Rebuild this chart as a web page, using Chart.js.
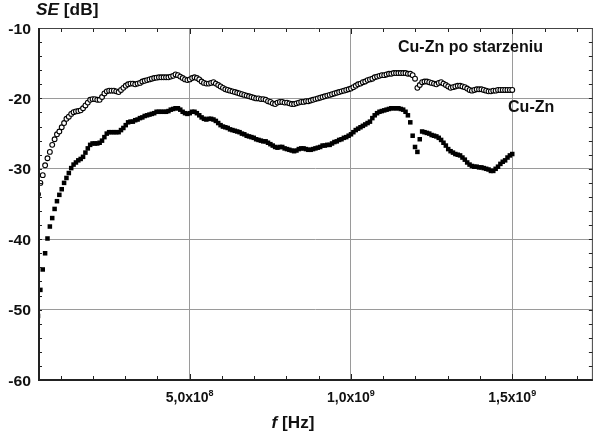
<!DOCTYPE html>
<html>
<head>
<meta charset="utf-8">
<script src="https://cdn.jsdelivr.net/npm/chart.js@4"></script>
<style>
  body { margin: 0; background: #fff; }
  canvas { display: block; }
</style>
</head>
<body>
<canvas id="chart" width="598" height="434"></canvas>
<script>
// sweep: 201 points from 30 MHz to 1.5 GHz
const sweepStart = 30e6;
const sweepStep = 7.35e6;

// open circles (Cu-Zn po starzeniu)
const seAged = [
  -33.6, -32.0, -30.9, -29.5, -28.5, -27.6, -26.6, -25.8, -25.1, -24.7,
  -24.1, -23.5, -22.9, -22.6, -22.2, -21.95, -21.85, -21.8, -21.7, -21.4,
  -21.0, -20.6, -20.2, -20.1, -20.1, -20.2, -20.2, -19.8, -19.3, -19.0,
  -18.9, -18.9, -18.9, -19.0, -19.1, -18.8, -18.5, -18.2, -18.0, -17.9,
  -17.9, -18.0, -17.9, -17.8, -17.6, -17.5, -17.4, -17.3, -17.2, -17.1,
  -17.05, -17.0, -17.0, -17.0, -17.0, -17.0, -16.9, -16.8, -16.6, -16.7,
  -16.9, -17.1, -17.3, -17.4, -17.3, -17.1, -17.0, -17.1, -17.3, -17.6,
  -17.8, -17.9, -17.9, -17.8, -17.7, -17.9, -18.1, -18.3, -18.5, -18.7,
  -18.8, -18.9, -19.0, -19.1, -19.2, -19.3, -19.4, -19.5, -19.6, -19.7,
  -19.8, -19.9, -20.0, -20.0, -20.1, -20.1, -20.2, -20.4, -20.5, -20.7,
  -20.8, -20.6, -20.5, -20.5, -20.6, -20.6, -20.7, -20.8, -20.8, -20.7,
  -20.6, -20.5, -20.5, -20.4, -20.4, -20.3, -20.2, -20.1, -20.0, -19.9,
  -19.8, -19.7, -19.6, -19.5, -19.4, -19.3, -19.2, -19.1, -19.0, -18.9,
  -18.8, -18.7, -18.6, -18.4, -18.2, -18.0, -17.9, -17.7, -17.6, -17.4,
  -17.3, -17.2, -17.0, -16.9, -16.8, -16.7, -16.7, -16.6, -16.5, -16.5,
  -16.4, -16.4, -16.4, -16.4, -16.4, -16.4, -16.5, -16.5, -16.7, -17.2,
  -18.5, -18.1, -17.7, -17.6, -17.6, -17.7, -17.8, -17.9, -18.0, -17.8,
  -17.7, -17.9, -18.1, -18.3, -18.5, -18.4, -18.3, -18.2, -18.2, -18.3,
  -18.4, -18.6, -18.8, -18.9, -18.8, -18.7, -18.7, -18.7, -18.8, -18.9,
  -19.0, -19.0, -18.9, -18.9, -18.8, -18.8, -18.8, -18.8, -18.8, -18.8,
  -18.8
];

// filled squares (Cu-Zn)
const seFresh = [
  -50.9, -47.2, -44.3, -42.0, -39.9, -38.2, -37.0, -35.7, -34.6, -33.7,
  -32.9, -32.0, -31.3, -30.6, -29.9, -29.4, -29.1, -28.8, -28.6, -28.3,
  -27.7, -27.1, -26.6, -26.4, -26.4, -26.4, -26.3, -26.0, -25.5, -25.0,
  -24.8, -24.8, -24.8, -24.8, -24.8, -24.5, -24.2, -23.8, -23.4, -23.3,
  -23.3, -23.1, -23.0, -22.8, -22.7, -22.5, -22.4, -22.3, -22.2, -22.1,
  -21.9, -21.9, -21.9, -21.9, -21.9, -21.8, -21.6, -21.5, -21.4, -21.4,
  -21.6, -21.9, -22.1, -22.2, -22.1, -21.9, -21.9, -22.1, -22.4, -22.7,
  -22.9, -23.0, -22.9, -22.9, -23.0, -23.2, -23.5, -23.8, -24.0, -24.1,
  -24.2, -24.4, -24.5, -24.6, -24.7, -24.8, -25.0, -25.1, -25.3, -25.4,
  -25.5, -25.6, -25.8, -25.9, -26.0, -26.1, -26.1, -26.3, -26.5, -26.7,
  -26.9, -27.0, -26.9, -26.9, -27.1, -27.2, -27.3, -27.4, -27.5, -27.4,
  -27.2, -27.1, -27.1, -27.2, -27.3, -27.3, -27.2, -27.1, -27.0, -26.9,
  -26.7, -26.7, -26.6, -26.6, -26.4, -26.2, -26.1, -25.9, -25.8, -25.6,
  -25.5, -25.3, -25.1, -24.8, -24.5, -24.3, -24.1, -23.9, -23.7, -23.5,
  -23.3, -22.8, -22.4, -22.1, -21.9, -21.8, -21.7, -21.6, -21.5, -21.4,
  -21.4, -21.4, -21.4, -21.5, -21.6, -21.9, -22.4, -23.4, -25.3, -26.9,
  -27.6, -25.8, -24.7, -24.8, -24.9, -25.0, -25.2, -25.3, -25.4, -25.6,
  -25.9, -26.3, -26.7, -27.2, -27.5, -27.7, -27.9, -28.0, -28.1, -28.4,
  -28.7, -29.1, -29.4, -29.6, -29.7, -29.7, -29.8, -29.8, -29.9, -30.0,
  -30.1, -30.3, -30.3, -30.0, -29.7, -29.3, -29.0, -28.8, -28.4, -28.1,
  -27.9
];

const xTicks = [5e8, 1e9, 1.5e9];
const xTickMantissa = ['5,0x10', '1,0x10', '1,5x10'];
const xTickExponent = ['8', '9', '9'];
const yTicks = [-60, -50, -40, -30, -20, -10];
const seriesNames = ['Cu-Zn po starzeniu', 'Cu-Zn'];
// text anchors in data units [x, y]
const labelPos = [[1.146e9, -13.4], [1.487e9, -21.9]];

const FONT = '"Liberation Sans", Arial, sans-serif';

const toPoints = (vals) => vals.map((v, i) => ({ x: sweepStart + i * sweepStep, y: v }));

// draws runs of text, each run may be stretched sideways
function drawRuns(ctx, runs, x, y, align) {
  let total = 0;
  runs.forEach(r => {
    ctx.font = r.font;
    r.w = ctx.measureText(r.t).width * (r.sx || 1);
    total += r.w;
  });
  let cx = align === 'center' ? x - total / 2 : align === 'right' ? x - total : x;
  runs.forEach(r => {
    ctx.save();
    ctx.font = r.font;
    ctx.textAlign = 'left';
    ctx.textBaseline = 'alphabetic';
    ctx.translate(cx, y + (r.dy || 0));
    ctx.scale(r.sx || 1, 1);
    ctx.fillText(r.t, 0, 0);
    ctx.restore();
    cx += r.w;
  });
}

const frame = {
  id: 'frame',
  afterDatasetsDraw(chart) {
    const { ctx, chartArea: a, scales: { x, y } } = chart;
    ctx.save();
    ctx.strokeStyle = '#222';

    // minor/major ticks, pointing inward
    ctx.lineWidth = 1;
    ctx.beginPath();
    for (let f = 1e8; f <= 1.7e9; f += 1e8) {
      const px = Math.round(x.getPixelForValue(f)) + 0.5;
      const major = Math.abs(f % 5e8) < 1 || Math.abs(f % 5e8 - 5e8) < 1;
      ctx.moveTo(px, a.bottom);
      ctx.lineTo(px, a.bottom - (major ? 6 : 4));
      ctx.moveTo(px, a.top);
      ctx.lineTo(px, a.top + (major ? 6 : 4));
    }
    for (let v = -58; v < -10; v += 2) {
      const py = Math.round(y.getPixelForValue(v)) + 0.5;
      ctx.moveTo(a.left, py);
      ctx.lineTo(a.left + 4, py);
      ctx.moveTo(a.right, py);
      ctx.lineTo(a.right - 4, py);
    }
    ctx.stroke();

    // box
    ctx.lineWidth = 1;
    ctx.strokeStyle = '#444';
    ctx.beginPath();
    ctx.moveTo(a.left, a.top + 0.5);
    ctx.lineTo(a.right, a.top + 0.5);
    ctx.moveTo(a.right - 0.5, a.top);
    ctx.lineTo(a.right - 0.5, a.bottom);
    ctx.stroke();
    ctx.lineWidth = 2;
    ctx.strokeStyle = '#222';
    ctx.beginPath();
    ctx.moveTo(a.left + 1, a.top);
    ctx.lineTo(a.left + 1, a.bottom + 1);
    ctx.moveTo(a.left, a.bottom);
    ctx.lineTo(a.right, a.bottom);
    ctx.stroke();
    ctx.restore();
  },
  afterDraw(chart) {
    const { ctx, chartArea: a, scales: { x, y } } = chart;
    ctx.save();
    ctx.fillStyle = '#111';

    yTicks.forEach(v => {
      drawRuns(ctx, [{ t: String(v), font: 'bold 15px ' + FONT, sx: 1.05 }],
        31, y.getPixelForValue(v) + 5.5, 'right');
    });

    xTicks.forEach((v, i) => {
      drawRuns(ctx, [
        { t: xTickMantissa[i], font: 'bold 14px ' + FONT },
        { t: xTickExponent[i], font: 'bold 9px ' + FONT, dy: -6 }
      ], x.getPixelForValue(v), a.bottom + 21.5, 'center');
    });

    drawRuns(ctx, [
      { t: 'SE', font: 'italic bold 16px ' + FONT, sx: 1.08 },
      { t: ' [dB]', font: 'bold 16px ' + FONT, sx: 1.08 }
    ], 36, 15, 'left');

    drawRuns(ctx, [
      { t: 'f', font: 'italic bold 16px ' + FONT, sx: 1.07 },
      { t: ' [Hz]', font: 'bold 16px ' + FONT, sx: 1.07 }
    ], 293, 428, 'center');

    seriesNames.forEach((name, i) => {
      drawRuns(ctx, [{ t: name, font: 'bold 16px ' + FONT }],
        x.getPixelForValue(labelPos[i][0]), y.getPixelForValue(labelPos[i][1]), 'left');
    });
    ctx.restore();
  }
};

new Chart(document.getElementById('chart').getContext('2d'), {
  type: 'scatter',
  data: {
    datasets: [
      {
        label: seriesNames[0],
        data: toPoints(seAged),
        pointStyle: 'circle',
        pointRadius: 2.4,
        pointBorderWidth: 1.1,
        borderColor: '#000',
        backgroundColor: '#fff'
      },
      {
        label: seriesNames[1],
        data: toPoints(seFresh),
        pointStyle: 'rect',
        pointRadius: 3.2,
        pointBorderWidth: 0,
        borderColor: '#000',
        backgroundColor: '#000'
      }
    ]
  },
  options: {
    responsive: false,
    animation: false,
    layout: { padding: { top: 28, right: 0, left: 0, bottom: 0 } },
    plugins: { legend: { display: false }, tooltip: { enabled: false } },
    scales: {
      x: {
        type: 'linear',
        min: 3e7,
        max: 1.75e9,
        afterBuildTicks: (s) => { s.ticks = xTicks.map(v => ({ value: v })); },
        afterFit: (s) => { s.height = 54; },
        ticks: { display: false },
        grid: { color: '#9a9a9a', lineWidth: 1, drawTicks: false },
        border: { display: false }
      },
      y: {
        min: -60,
        max: -10,
        afterBuildTicks: (s) => { s.ticks = yTicks.map(v => ({ value: v })); },
        afterFit: (s) => { s.width = 38; },
        ticks: { display: false },
        grid: { color: '#9a9a9a', lineWidth: 1, drawTicks: false },
        border: { display: false }
      }
    }
  },
  plugins: [frame]
});
</script>
</body>
</html>
